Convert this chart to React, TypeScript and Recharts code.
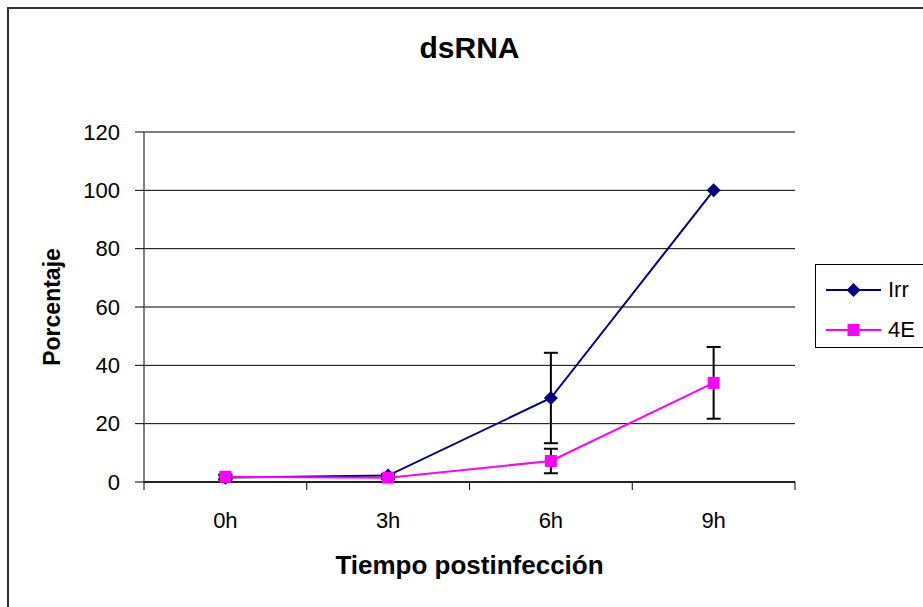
import { ComposedChart, Line, XAxis, YAxis, CartesianGrid, ErrorBar } from 'recharts';

const categories = ['0h', '3h', '6h', '9h'];
const irrValues = [1.5, 2.2, 28.8, 100];
const irrErrors = [0.8, 0.5, 15.5, 0];
const e4Values = [1.8, 1.5, 7.2, 34];
const e4Errors = [0.8, 0.5, 4.2, 12.3];
const yTicks = [0, 20, 40, 60, 80, 100, 120];

const data = categories.map((time, i) => ({
  time,
  irr: irrValues[i],
  irrErr: irrErrors[i],
  e4: e4Values[i],
  e4Err: e4Errors[i],
}));

const W = 923;
const H = 607;
const MARGIN = { top: 132, right: 128, bottom: 0, left: 0 };
const Y_W = 144;
const X_H = 125;
const PLOT_W = W - MARGIN.left - MARGIN.right - Y_W;
const BAND = PLOT_W / categories.length;
const FONT = '"Liberation Sans", Arial, sans-serif';

const IRR = '#000080';
const E4 = '#FF00FF';

const series = [
  { name: 'Irr', color: IRR, shape: 'diamond' },
  { name: '4E', color: E4, shape: 'square' },
];

function marker(shape: string, cx: number, cy: number, color: string, key?: any) {
  if (shape === 'diamond') {
    return <path key={key} d={`M${cx} ${cy - 7}L${cx + 7} ${cy}L${cx} ${cy + 7}L${cx - 7} ${cy}Z`} fill={color} />;
  }
  return <rect key={key} x={cx - 6} y={cy - 6} width={12} height={12} fill={color} />;
}

function XTick({ x, y, payload, index }: any) {
  const last = index === categories.length - 1;
  return (
    <g>
      <line x1={x - BAND / 2} x2={x - BAND / 2} y1={y} y2={y + 8} stroke="#000" />
      {last && <line x1={x + BAND / 2} x2={x + BAND / 2} y1={y} y2={y + 8} stroke="#000" />}
      <text x={x} y={y + 46} textAnchor="middle" fontSize={22} fill="#000" fontFamily={FONT}>
        {payload.value}
      </text>
    </g>
  );
}

const xLabel = ({ viewBox }: any) => (
  <text
    x={viewBox.x + viewBox.width / 2}
    y={viewBox.y + 92}
    textAnchor="middle"
    fontSize={26}
    fontWeight="bold"
    fill="#000"
    fontFamily={FONT}
  >
    Tiempo postinfección
  </text>
);

const yLabel = ({ viewBox }: any) => {
  const cx = viewBox.x + 52;
  const cy = viewBox.y + viewBox.height / 2;
  return (
    <text
      x={cx}
      y={cy}
      transform={`rotate(-90 ${cx} ${cy})`}
      textAnchor="middle"
      dominantBaseline="central"
      fontSize={23}
      fontWeight="bold"
      fill="#000"
      fontFamily={FONT}
    >
      Porcentaje
    </text>
  );
};

export default function App() {
  return (
    <div style={{ position: 'absolute', left: 0, top: 0, width: W, height: H, overflow: 'hidden', background: '#fff', fontFamily: FONT }}>
      <div style={{ position: 'absolute', left: 7, top: 7, width: W + 20, height: H + 20, border: '2px solid #333', boxSizing: 'border-box' }} />

      <div style={{ position: 'absolute', left: Y_W, top: 33, width: PLOT_W, textAlign: 'center', fontSize: 30, lineHeight: '30px', fontWeight: 'bold', color: '#000' }}>
        dsRNA
      </div>

      <div style={{ position: 'absolute', left: 0, top: 0 }}>
        <ComposedChart width={W} height={H} data={data} margin={MARGIN}>
          <CartesianGrid vertical={false} stroke="#000" />
          <XAxis
            dataKey="time"
            scale="band"
            height={X_H}
            tickSize={0}
            tickMargin={0}
            tick={<XTick />}
            axisLine={{ stroke: '#222', strokeWidth: 2 }}
            label={{ content: xLabel }}
          />
          <XAxis xAxisId="top" orientation="top" dataKey="time" scale="band" height={0} tick={false} tickLine={false} axisLine={{ stroke: '#808080' }} />
          <YAxis
            domain={[0, 120]}
            ticks={yTicks}
            width={Y_W}
            tickSize={9}
            tickMargin={15}
            tick={{ fill: '#000', fontSize: 22, fontFamily: FONT }}
            tickLine={{ stroke: '#000' }}
            axisLine={{ stroke: '#555', strokeWidth: 1.5 }}
            label={{ content: yLabel }}
          />
          <YAxis yAxisId="right" orientation="right" domain={[0, 120]} width={0} tick={false} tickLine={false} axisLine={{ stroke: '#808080' }} />
          <Line
            dataKey="irr"
            stroke={IRR}
            strokeWidth={2}
            isAnimationActive={false}
            dot={(p: any) => marker('diamond', p.cx, p.cy, IRR, p.index)}
            activeDot={false}
          >
            <ErrorBar dataKey="irrErr" width={7} strokeWidth={2} stroke="#000" direction="y" />
          </Line>
          <Line
            dataKey="e4"
            stroke={E4}
            strokeWidth={2}
            isAnimationActive={false}
            dot={(p: any) => marker('square', p.cx, p.cy, E4, p.index)}
            activeDot={false}
          >
            <ErrorBar dataKey="e4Err" width={7} strokeWidth={2} stroke="#000" direction="y" />
          </Line>
        </ComposedChart>
      </div>

      <div style={{ position: 'absolute', left: 815, top: 264, width: 130, height: 84, border: '1px solid #000', boxSizing: 'border-box' }}>
        {series.map((s, i) => (
          <div key={s.name} style={{ position: 'absolute', left: 0, top: 6 + i * 40, height: 38, display: 'flex', alignItems: 'center' }}>
            <svg width={71} height={38} style={{ display: 'block' }}>
              <line x1={10} x2={65} y1={19} y2={19} stroke={s.color} strokeWidth={2} />
              {marker(s.shape, 37.5, 19, s.color)}
            </svg>
            <span style={{ fontSize: 22, color: '#000', marginLeft: 1 }}>{s.name}</span>
          </div>
        ))}
      </div>
    </div>
  );
}
